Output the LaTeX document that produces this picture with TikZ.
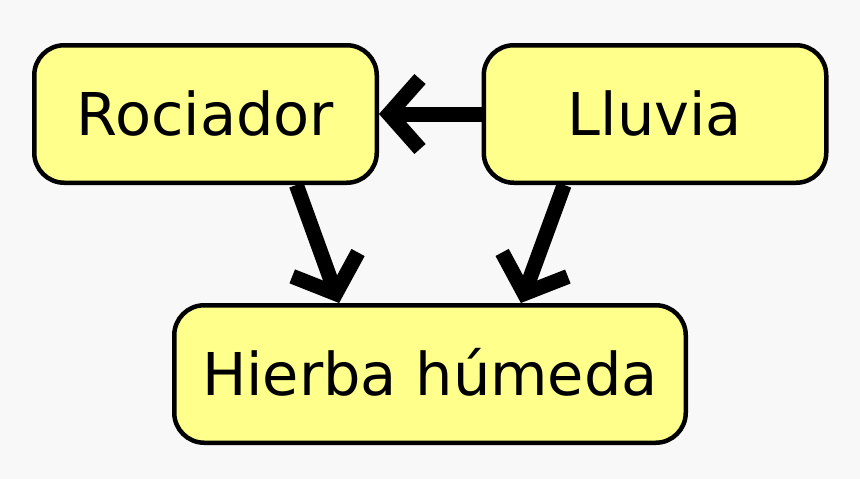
\documentclass[tikz,border=0pt]{standalone}
\usepackage{fontspec}
\setmainfont{DejaVu Sans}
\usepackage{xcolor}
\usetikzlibrary{arrows.meta,positioning}
\definecolor{nodeyellow}{RGB}{255,255,140}
\definecolor{bggray}{RGB}{248,248,248}

\begin{document}
\begin{tikzpicture}[x=1pt, y=-1pt,
    var/.style={draw, line width=4.5pt, fill=nodeyellow, rounded corners=30pt,
        minimum height=137.5pt, text height=43pt, text depth=0pt,
        font=\fontsize{59}{70}\selectfont},
    arr/.style={line width=15pt, -{Straight Barb[length=31pt, width=70pt, sharp]}}]
    \fill[bggray] (0,0) rectangle (860,479);
    \useasboundingbox (0,0) rectangle (860,479);

    % Rociador
    \node[var, minimum width=342.5pt] (roc) at (205.5,114) {Rociador};

    % Lluvia
    \node[var, minimum width=342.5pt] (llu) at (655,114) {Lluvia};

    % Hierba
    \node[var, minimum width=511.5pt] (hum) at (430,374) {Hierba húmeda};

    \draw[arr] (llu.west) -- (roc.east);
    \draw[arr] (roc.-38) -- (hum.142);
    \draw[arr] (llu.-142) -- (hum.38);
\end{tikzpicture}
\end{document}
